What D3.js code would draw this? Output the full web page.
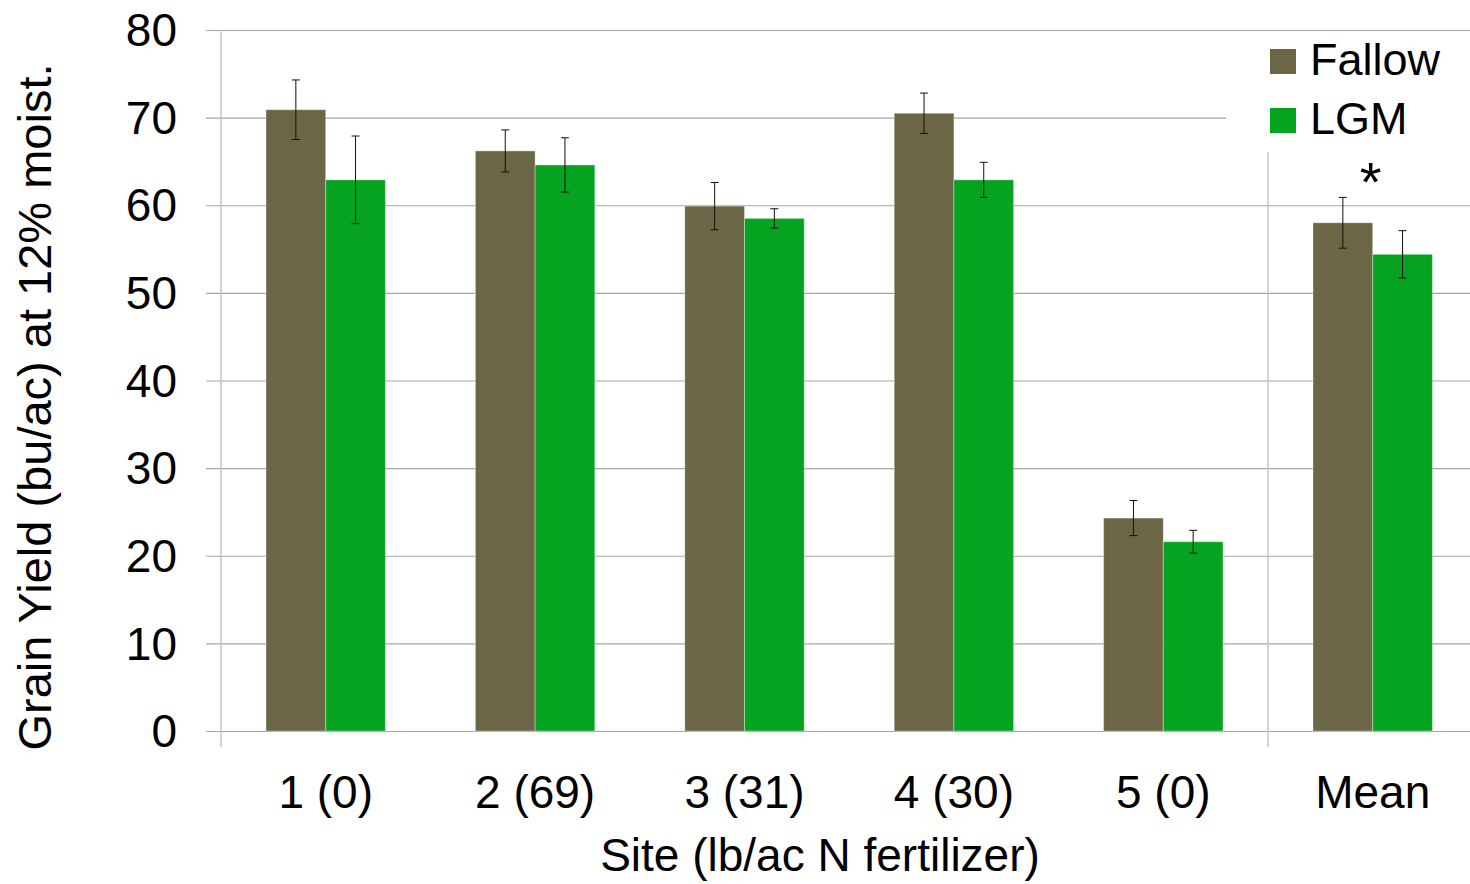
<html>
<head>
<style>
  body { margin: 0; background: #fff; }
  text { font-family: "Liberation Sans", Arial, sans-serif; fill: #000; }
</style>
</head>
<body>
<svg id="container" width="1470" height="884"></svg>
<script src="https://cdn.jsdelivr.net/npm/d3@7"></script>
<script>
    // data
    let sites = ["1 (0)", "2 (69)", "3 (31)", "4 (30)", "5 (0)", "Mean"]
    let seriesNames = ["Fallow", "LGM"]
    let fallow = [70.9, 66.2, 59.9, 70.5, 24.3, 58.0]
    let fallowErr = [3.4, 2.4, 2.7, 2.3, 2.0, 2.9]
    let lgm = [62.9, 64.6, 58.5, 62.9, 21.6, 54.4]
    let lgmErr = [5.0, 3.1, 1.1, 2.0, 1.3, 2.7]
    let yTicks = [0, 10, 20, 30, 40, 50, 60, 70, 80]
    let colors = ["#6b6646", "#06a321"]

    let svg = d3.select("#container")

    let plotLeft = 221, step = 209.4
    let plotTop = 30, plotBottom = 731

    let x0 = d3.scaleBand()
        .domain(sites)
        .range([plotLeft, plotLeft + sites.length * step])
    let x1 = d3.scaleBand()
        .domain(seriesNames)
        .range([0, x0.bandwidth()])
        .paddingOuter(0.754)
    let y = d3.scaleLinear()
        .domain([0, 80])
        .range([plotBottom, plotTop])
    let color = d3.scaleOrdinal().domain(seriesNames).range(colors)

    // gridlines + y labels
    let yAxis = d3.axisLeft(y)
        .tickValues(yTicks)
        .tickSize(-(1470 - 206))
        .tickPadding(29)
    let yg = svg.append("g")
        .attr("transform", "translate(206,0)")
        .call(yAxis)
    yg.select(".domain").remove()
    yg.selectAll("line").attr("stroke", "#a6a6a6").attr("stroke-width", 1.2)
    yg.selectAll("text")
        .style("font-size", "46px")
        .attr("dy", "0.34em")

    // vertical axis line and separator before the mean
    svg.append("line")
        .attr("x1", plotLeft).attr("x2", plotLeft)
        .attr("y1", plotTop).attr("y2", 747)
        .attr("stroke", "#c4c4c4").attr("stroke-width", 1.5)
    svg.append("line")
        .attr("x1", x0("Mean")).attr("x2", x0("Mean"))
        .attr("y1", 152).attr("y2", 747)
        .attr("stroke", "#c4c4c4").attr("stroke-width", 1.5)

    // legend box covers the grid
    svg.append("rect")
        .attr("x", 1226).attr("y", 38)
        .attr("width", 244).attr("height", 112)
        .attr("fill", "#fff")

    let rows = sites.map((s, i) => ({
        site: s,
        vals: [
            { name: "Fallow", v: fallow[i], e: fallowErr[i] },
            { name: "LGM", v: lgm[i], e: lgmErr[i] }
        ]
    }))

    let groups = svg.selectAll(".grp")
        .data(rows)
        .enter()
        .append("g")
        .attr("class", "grp")
        .attr("transform", d => "translate(" + x0(d.site) + ",0)")

    let bars = groups.selectAll(".bar")
        .data(d => d.vals)
        .enter()
        .append("g")

    bars.append("rect")
        .attr("x", d => x1(d.name))
        .attr("y", d => y(d.v))
        .attr("width", x1.bandwidth())
        .attr("height", d => y(0) - y(d.v))
        .attr("fill", d => color(d.name))
        .attr("stroke", "rgba(255,255,255,0.35)")
        .attr("stroke-width", 1)

    // error bars
    let cx = d => x1(d.name) + x1.bandwidth() / 2
    bars.append("line")
        .attr("x1", cx).attr("x2", cx)
        .attr("y1", d => y(d.v + d.e))
        .attr("y2", d => y(d.v - d.e))
        .attr("stroke", "#111").attr("stroke-width", 1)
    bars.append("line")
        .attr("x1", d => cx(d) - 4).attr("x2", d => cx(d) + 4)
        .attr("y1", d => y(d.v + d.e)).attr("y2", d => y(d.v + d.e))
        .attr("stroke", "#111").attr("stroke-width", 1)
    bars.append("line")
        .attr("x1", d => cx(d) - 4).attr("x2", d => cx(d) + 4)
        .attr("y1", d => y(d.v - d.e)).attr("y2", d => y(d.v - d.e))
        .attr("stroke", "#111").attr("stroke-width", 1)

    // significance mark over the mean
    svg.append("text")
        .attr("x", x0("Mean") + x0.bandwidth() / 2 - 2)
        .attr("y", 201)
        .attr("text-anchor", "middle")
        .style("font-size", "56px")
        .text("*")

    // x axis labels
    let xAxis = d3.axisBottom(x0).tickSize(0).tickPadding(0)
    let xg = svg.append("g")
        .attr("transform", "translate(0," + plotBottom + ")")
        .call(xAxis)
    xg.select(".domain").remove()
    xg.selectAll("text")
        .attr("y", 77)
        .attr("dy", 0)
        .style("font-size", "46px")

    // axis titles
    svg.append("text")
        .attr("x", 820).attr("y", 871)
        .attr("text-anchor", "middle")
        .style("font-size", "46px")
        .text("Site (lb/ac N fertilizer)")
    svg.append("text")
        .attr("transform", "translate(51,407) rotate(-90)")
        .attr("text-anchor", "middle")
        .style("font-size", "47px")
        .text("Grain Yield (bu/ac) at 12% moist.")

    // legend
    let legendG = svg.selectAll(".legend")
        .data(seriesNames)
        .enter()
        .append("g")
        .attr("class", "legend")
        .attr("transform", (d, i) => "translate(1270," + (49 + i * 59) + ")")
    legendG.append("rect")
        .attr("width", 26).attr("height", 25)
        .attr("fill", d => color(d))
    legendG.append("text")
        .attr("x", 40).attr("y", 26)
        .style("font-size", "45px")
        .text(d => d)
</script>
</body>
</html>
